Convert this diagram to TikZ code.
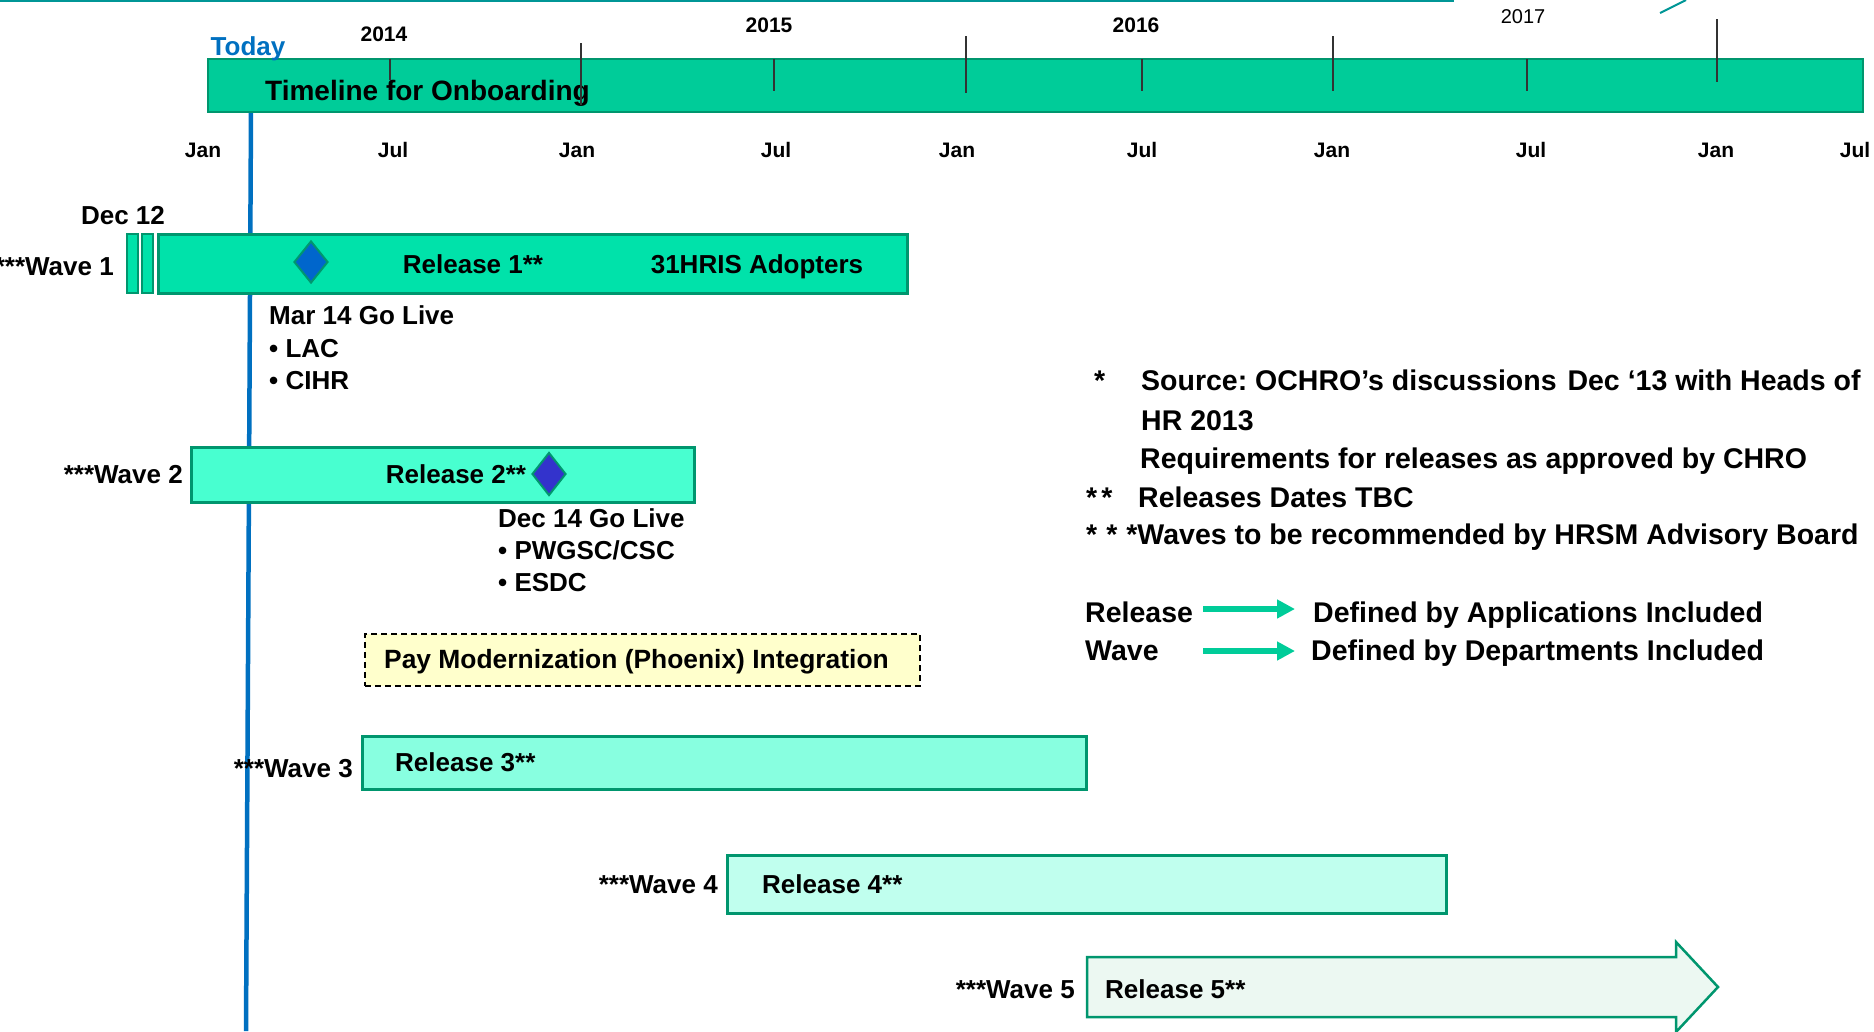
\documentclass[tikz,border=0pt]{standalone}
\usepackage{fontspec}
\setmainfont{Liberation Sans}
\usetikzlibrary{shapes.geometric,arrows.meta}
\frenchspacing
\definecolor{tealbar}{RGB}{0,204,153}
\definecolor{edge}{RGB}{0,150,110}
\definecolor{todayblue}{RGB}{0,112,192}
\definecolor{wavea}{RGB}{0,226,170}
\definecolor{waveb}{RGB}{72,255,208}
\definecolor{wavec}{RGB}{136,255,224}
\definecolor{waved}{RGB}{192,255,238}
\definecolor{wavee}{RGB}{236,248,242}
\definecolor{gema}{RGB}{0,102,204}
\definecolor{gemb}{RGB}{51,51,204}
\definecolor{payfill}{RGB}{255,255,204}
\definecolor{rim}{RGB}{0,150,150}
\begin{document}
\begin{tikzpicture}[x=1pt, y=-1pt,
  txt/.style={font=\fontsize{26}{32}\selectfont\bfseries, inner sep=0},
  small/.style={font=\fontsize{21}{24}\selectfont\bfseries, inner sep=0, anchor=base},
  note/.style={font=\fontsize{28.5}{34}\selectfont\bfseries, inner sep=0, anchor=base west},
  bar/.style={draw=edge, line width=2.5pt, anchor=north west, inner sep=0},
  gem/.style={diamond, draw=edge, line width=2pt, inner sep=0, minimum width=34pt, minimum height=42pt},
  legarrow/.style={draw=tealbar, line width=6pt, -{Triangle[length=18pt,width=18pt]}}]
\useasboundingbox (0,0) rectangle (1874,1031);
\draw[rim, line width=2pt] (0,1) -- (1454,1);
\draw[rim, line width=2pt] (1660,13) -- (1686,0);

\coordinate (now) at (251,112);
\coordinate (nowend) at (246,1031);
\draw[todayblue, line width=4.5pt] (now) -- (nowend);

\node[bar, fill=tealbar, line width=2pt, minimum width=1655pt, minimum height=53pt] (tl) at (207,58) {};
\node[txt, anchor=base west, font=\fontsize{28}{32}\selectfont\bfseries] (tltext) at (265,100) {Timeline for Onboarding};
\foreach \x/\a/\b in {390/59/80,581/43/105,774/59/91,966/36/93,1142/59/91,1333/36/91,1527/59/91,1717/19/82}
  \draw[line width=1.3pt, black!80] (\x,\a) -- (\x,\b);
\foreach \x/\m [count=\i] in {203/Jan,393/Jul,577/Jan,776/Jul,957/Jan,1142/Jul,1332/Jan,1531/Jul,1716/Jan,1855/Jul}
  \node[small] (mon\i) at (\x,157) {\m};
\node[small] (y14) at (384,41) {2014};
\node[small] (y15) at (769,32) {2015};
\node[small] (y16) at (1136,32) {2016};
\node[small, font=\fontsize{20}{24}\selectfont] (y17) at (1523,23) {2017};
\node[txt, anchor=base, text=todayblue] (today) at (248,55) {Today};

\node[txt, anchor=base] (dec12) at (123,224) {Dec 12};
\node[bar, fill=wavea, line width=2pt, minimum width=11pt, minimum height=59pt] (w1a) at (126,233) {};
\node[bar, fill=wavea, line width=2pt, minimum width=11pt, minimum height=59pt] (w1b) at (141,233) {};
\node[bar, fill=wavea, minimum width=749pt, minimum height=59pt] (w1) at (157,233) {};
\node[gem, fill=gema] (g1) at (311,262) {};
\node[txt, anchor=base] (r1) at (473,273) {Release 1**};
\node[txt, anchor=base] (hris) at (757,273) {31HRIS Adopters};
\node[txt, anchor=base east] (wv1) at (114,275) {***Wave 1};
\node[txt, anchor=base west] (go1) at (269,324) {Mar 14 Go Live};
\node[txt, anchor=base west] (lac) at (269,357) {• LAC};
\node[txt, anchor=base west] (cihr) at (269,389) {• CIHR};

\node[bar, fill=waveb, minimum width=503pt, minimum height=55pt] (w2) at (190,446) {};
\node[txt, anchor=base] (r2) at (456,483) {Release 2**};
\node[gem, fill=gemb, minimum height=43pt] (g2) at (549,474) {};
\node[txt, anchor=base east] (wv2) at (183,483) {***Wave 2};
\node[txt, anchor=base west] (go2) at (498,527) {Dec 14 Go Live};
\node[txt, anchor=base west] (pw) at (498,559) {• PWGSC/CSC};
\node[txt, anchor=base west] (esdc) at (498,591) {• ESDC};

\node[anchor=north west, draw, line width=2pt, dash pattern=on 6pt off 4pt, fill=payfill, minimum width=555pt, minimum height=52pt] (pay) at (364,633) {};
\node[txt, anchor=base west, font=\fontsize{26.4}{32}\selectfont\bfseries] (paytext) at (384,668) {Pay Modernization (Phoenix) Integration};

\node[bar, fill=wavec, minimum width=724pt, minimum height=53pt] (w3) at (361,735) {};
\node[txt, anchor=base west] (r3) at (395,771) {Release 3**};
\node[txt, anchor=base east] (wv3) at (353,777) {***Wave 3};

\node[bar, fill=waved, minimum width=719pt, minimum height=58pt] (w4) at (726,854) {};
\node[txt, anchor=base west] (r4) at (762,893) {Release 4**};
\node[txt, anchor=base east] (wv4) at (718,893) {***Wave 4};

\draw[draw=edge, line width=2.5pt, fill=wavee] (1087,957) -- (1676,957) -- (1676,942) -- (1718,987) -- (1676,1032) -- (1676,1017) -- (1087,1017) -- cycle;
\node[txt, anchor=base west] (r5) at (1105,998) {Release 5**};
\node[txt, anchor=base east] (wv5) at (1075,998) {***Wave 5};

\node[note] (st1) at (1094,390) {*};
\node[note] (src) at (1141,390) {Source: OCHRO’s discussions \kern3pt Dec ‘13 with Heads of};
\node[note] (hr) at (1141,430) {HR 2013};
\node[note] (req) at (1140,468) {Requirements for releases as approved by CHRO};
\node[note] (st2) at (1086,507) {*\kern4pt*};
\node[note] (tbc) at (1138,507) {Releases Dates TBC};
\node[note] (st3) at (1086,544) {*\kern9pt*\kern9pt*Waves to be recommended by HRSM Advisory Board};
\node[note] (rel) at (1085,622) {Release};
\node[note] (wav) at (1085,660) {Wave};
\node[note] (defa) at (1313,622) {Defined by Applications Included};
\node[note] (defd) at (1311,660) {Defined by Departments Included};
\coordinate (ra) at (1203,609);
\coordinate (rb) at (1295,609);
\coordinate (wa) at (1203,651);
\coordinate (wb) at (1295,651);
\draw[legarrow] (ra) -- (rb);
\draw[legarrow] (wa) -- (wb);
\end{tikzpicture}
\end{document}
